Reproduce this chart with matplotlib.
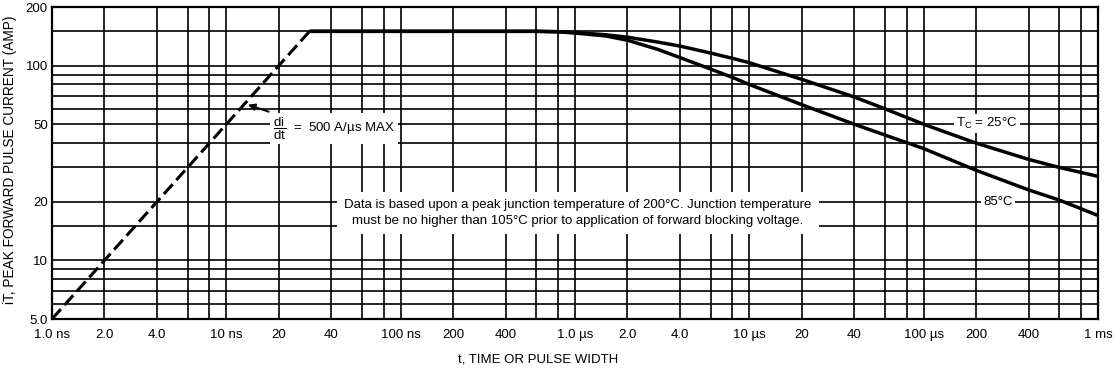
import matplotlib
matplotlib.use('Agg')
import matplotlib.pyplot as plt

plt.rcParams['font.family'] = ['Liberation Sans', 'DejaVu Sans']
plt.rcParams['mathtext.fontset'] = 'custom'
plt.rcParams['mathtext.rm'] = 'Liberation Sans'

# x grid / tick positions (seconds) and their labels
x_ticks = [1e-9, 2e-9, 4e-9, 6e-9, 8e-9,
           1e-8, 2e-8, 4e-8, 6e-8, 8e-8,
           1e-7, 2e-7, 4e-7, 6e-7, 8e-7,
           1e-6, 2e-6, 4e-6, 6e-6, 8e-6,
           1e-5, 2e-5, 4e-5, 6e-5, 8e-5,
           1e-4, 2e-4, 4e-4, 6e-4, 8e-4, 1e-3]
x_labels = ['1.0 ns', '2.0', '4.0', '', '',
            '10 ns', '20', '40', '', '',
            '100 ns', '200', '400', '', '',
            '1.0 µs', '2.0', '4.0', '', '',
            '10 µs', '20', '40', '', '',
            '100 µs', '200', '400', '', '', '1 ms']

# y grid / tick positions (amps)
y_ticks = [5, 6, 7, 8, 9, 10, 15, 20, 30, 40, 50, 60, 70, 80, 90, 100, 150, 200]
y_labels = ['5.0', '', '', '', '', '10', '', '20', '', '', '50',
            '', '', '', '', '100', '', '200']

# di/dt limit line
t_ramp = [1e-9, 30e-9]
i_ramp = [5, 150]

# curves (both start on the flat 150 A plateau)
t_curve = [30e-9, 600e-9, 800e-9, 1e-6, 1.5e-6, 2e-6, 3e-6, 4e-6, 6e-6, 8e-6, 10e-6,
           20e-6, 40e-6, 60e-6, 100e-6, 200e-6, 400e-6, 600e-6, 1e-3]
i_25c = [150, 150, 149.5, 148, 144, 140, 132, 126, 116, 109, 103.5,
         85, 69, 60, 50, 40, 33, 30, 27]
i_85c = [150, 150, 149, 147, 142, 135, 121, 110, 96, 87, 80,
         63, 50, 44, 37.5, 29, 23, 20.4, 17]

fig = plt.figure(figsize=(11.15, 3.73), dpi=100)
ax = fig.add_axes([52 / 1115, 54 / 373, 1046 / 1115, 312 / 373])
ax.set_xscale('log')
ax.set_yscale('log')
ax.set_xlim(1e-9, 1e-3)
ax.set_ylim(5, 200)

ax.set_xticks(x_ticks)
ax.set_xticklabels(x_labels)
ax.set_yticks(y_ticks)
ax.set_yticklabels(y_labels)
ax.minorticks_off()
ax.tick_params(axis='x', length=0, pad=7, labelsize=9.5)
ax.tick_params(axis='y', length=0, pad=3, labelsize=9.5)
ax.grid(True, which='major', color='black', linewidth=1.2)
for s in ax.spines.values():
    s.set_linewidth(1.6)

ax.plot(t_ramp, i_ramp, color='black', linewidth=2.2, linestyle=(0, (4.3, 1.8)))
ax.plot(t_curve, i_25c, color='black', linewidth=2.5, solid_capstyle='butt')
ax.plot(t_curve, i_85c, color='black', linewidth=2.5, solid_capstyle='butt')

ax.text(18.5e-9, 47.5, r'$\dfrac{\mathrm{di}}{\mathrm{dt}}$  =  500 A/µs MAX',
        fontsize=9.5, ha='left', va='center',
        bbox=dict(facecolor='white', edgecolor='none', pad=2))
ax.annotate('', xy=(13.3e-9, 63), xytext=(17.5e-9, 58),
            arrowprops=dict(arrowstyle='-|>', color='black', lw=1.4,
                            shrinkA=0, shrinkB=0))

ax.text(1.04e-6, 17.5,
        'Data is based upon a peak junction temperature of 200°C. Junction temperature\n'
        'must be no higher than 105°C prior to application of forward blocking voltage.',
        fontsize=9.5, ha='center', va='center', linespacing=1.4,
        bbox=dict(facecolor='white', edgecolor='none', pad=5))

ax.text(231e-6, 50.5, r'T$_\mathrm{C}$ = 25°C', fontsize=9.5, ha='center', va='center',
        bbox=dict(facecolor='white', edgecolor='none', pad=1.5))
ax.text(267e-6, 20, '85°C', fontsize=9.5, ha='center', va='center',
        bbox=dict(facecolor='white', edgecolor='none', pad=1.5))

ax.set_ylabel('iT, PEAK FORWARD PULSE CURRENT (AMP)', fontsize=9.8)
ax.yaxis.set_label_coords(-35 / 1046, 0.51)
fig.text(538 / 1115, 13 / 373, 't, TIME OR PULSE WIDTH', fontsize=9.5,
         ha='center', va='center')

plt.savefig('out.png', dpi=100)
